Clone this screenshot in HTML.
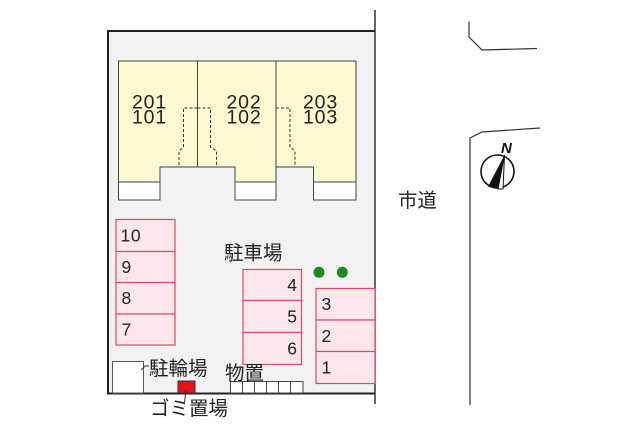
<!DOCTYPE html>
<html><head><meta charset="utf-8"><style>
html,body{margin:0;padding:0;background:#fff;}
svg{display:block;}
.num{font-family:"Liberation Sans",sans-serif;font-size:18px;fill:#222;}
.jp{font-family:"Liberation Sans","Noto Sans CJK JP",sans-serif;font-size:19.5px;fill:#222;}
</style></head><body>
<svg width="640" height="427" viewBox="0 0 640 427" xmlns="http://www.w3.org/2000/svg">
<rect x="0" y="0" width="640" height="427" fill="#fff"/>
<!-- lot -->
<rect x="108" y="31" width="267" height="362" fill="#f2f2f2"/>
<line x1="107" y1="31" x2="375" y2="31" stroke="#222" stroke-width="2"/>
<line x1="108" y1="30" x2="108" y2="394" stroke="#222" stroke-width="2"/>
<line x1="107" y1="393.5" x2="375" y2="393.5" stroke="#222" stroke-width="2"/>
<line x1="375" y1="10" x2="375" y2="404" stroke="#333" stroke-width="1.5"/>

<!-- building -->
<path d="M118.5 61 H356 V182 H313.5 V167 H276 V182 H235 V167 H160 V182 H118.5 Z" fill="#fcf8cf" stroke="#444" stroke-width="1"/>
<rect x="118.5" y="182" width="41.5" height="18" fill="#fff" stroke="#444" stroke-width="1"/>
<rect x="235" y="182" width="41" height="18" fill="#fff" stroke="#444" stroke-width="1"/>
<rect x="313.5" y="182" width="42.5" height="18" fill="#fff" stroke="#444" stroke-width="1"/>
<line x1="197.5" y1="61" x2="197.5" y2="167" stroke="#444" stroke-width="1"/>
<line x1="276" y1="61" x2="276" y2="167" stroke="#444" stroke-width="1"/>
<g fill="none" stroke="#333" stroke-width="1" stroke-dasharray="3,2">
<polyline points="197.5,108 183.5,108 183.5,147 179,151 179,167"/>
<polyline points="197.5,108 210.5,108 210.5,147 216.5,151 216.5,167"/>
<polyline points="276,108 290,108 290,147 295,151 295,167"/>
</g>
<g class="num" text-anchor="middle" style="font-size:19.5px;letter-spacing:0.8px">
<text x="149.5" y="108.5">201</text><text x="149.5" y="123.5">101</text>
<text x="244" y="108.5">202</text><text x="244" y="123.5">102</text>
<text x="320.5" y="108.5">203</text><text x="320.5" y="123.5">103</text>
</g>

<!-- parking -->
<g fill="#fde6ec" stroke="#df4a62" stroke-width="1.2">
<rect x="116" y="219.5" width="59" height="32"/>
<rect x="116" y="251.5" width="59" height="31"/>
<rect x="116" y="282.5" width="59" height="31.5"/>
<rect x="116" y="314" width="59" height="31"/>
<rect x="243" y="269.5" width="58.5" height="31"/>
<rect x="243" y="300.5" width="58.5" height="32"/>
<rect x="243" y="332.5" width="58.5" height="32"/>
<rect x="316" y="288.5" width="59" height="31.5"/>
<rect x="316" y="320" width="59" height="31.5"/>
<rect x="316" y="351.5" width="59" height="32"/>
</g>
<g class="num" style="font-size:17.5px;letter-spacing:0.6px">
<text x="120.5" y="241.5">10</text>
<text x="121.5" y="273">9</text>
<text x="121.5" y="304">8</text>
<text x="121.5" y="335.5">7</text>
<text x="321.5" y="310">3</text>
<text x="321.5" y="342">2</text>
<text x="321.5" y="373.5">1</text>
</g>
<g class="num" style="font-size:17.5px" text-anchor="end">
<text x="297" y="291">4</text>
<text x="297" y="322.5">5</text>
<text x="297" y="354.5">6</text>
</g>
<circle cx="319" cy="272.3" r="5.5" fill="#1f8a1f"/>
<circle cx="342.3" cy="272.3" r="5.5" fill="#1f8a1f"/>
<text class="jp" x="224" y="253.5" dominant-baseline="central">駐車場</text>

<!-- bottom items -->
<rect x="112.5" y="361.5" width="31" height="31.5" fill="#fff" stroke="#555" stroke-width="1"/>
<polyline points="141,370 145,366 149,366" fill="none" stroke="#333" stroke-width="1"/>
<text class="jp" x="149" y="369" dominant-baseline="central">駐輪場</text>
<g fill="#fff" stroke="#444" stroke-width="1">
<rect x="230.5" y="381.5" width="12" height="11.5"/>
<rect x="242.5" y="381.5" width="12" height="11.5"/>
<rect x="254.5" y="381.5" width="12" height="11.5"/>
<rect x="266.5" y="381.5" width="12" height="11.5"/>
<rect x="278.5" y="381.5" width="12" height="11.5"/>
<rect x="290.5" y="381.5" width="12.5" height="11.5"/>
</g>
<text class="jp" x="225" y="373.5" dominant-baseline="central">物置</text>
<rect x="178" y="381" width="17" height="12" fill="#e8101a" stroke="#333" stroke-width="1"/>
<line x1="186" y1="390" x2="184.5" y2="402" stroke="#333" stroke-width="1"/>
<text class="jp" x="150" y="409" dominant-baseline="central">ゴミ置場</text>

<!-- road -->
<polyline points="469,21.5 469,37 482,50 537,48.5" fill="none" stroke="#333" stroke-width="1.2"/>
<polyline points="540,128 482,132 470,138 470,405" fill="none" stroke="#333" stroke-width="1.2"/>
<text class="jp" x="398" y="201" dominant-baseline="central">市道</text>

<!-- compass -->
<circle cx="497.5" cy="171.5" r="16.5" fill="#fff" stroke="#111" stroke-width="1.6"/>
<polygon points="504.5,155 488,186.5 498,189" fill="#111"/>
<polygon points="504.5,155 498,189 503,189" fill="#fff" stroke="#111" stroke-width="1"/>
<text x="501" y="153" style="font-family:'Liberation Sans',sans-serif;font-size:15px;font-weight:bold;font-style:italic;fill:#111">N</text>
</svg>
</body></html>
